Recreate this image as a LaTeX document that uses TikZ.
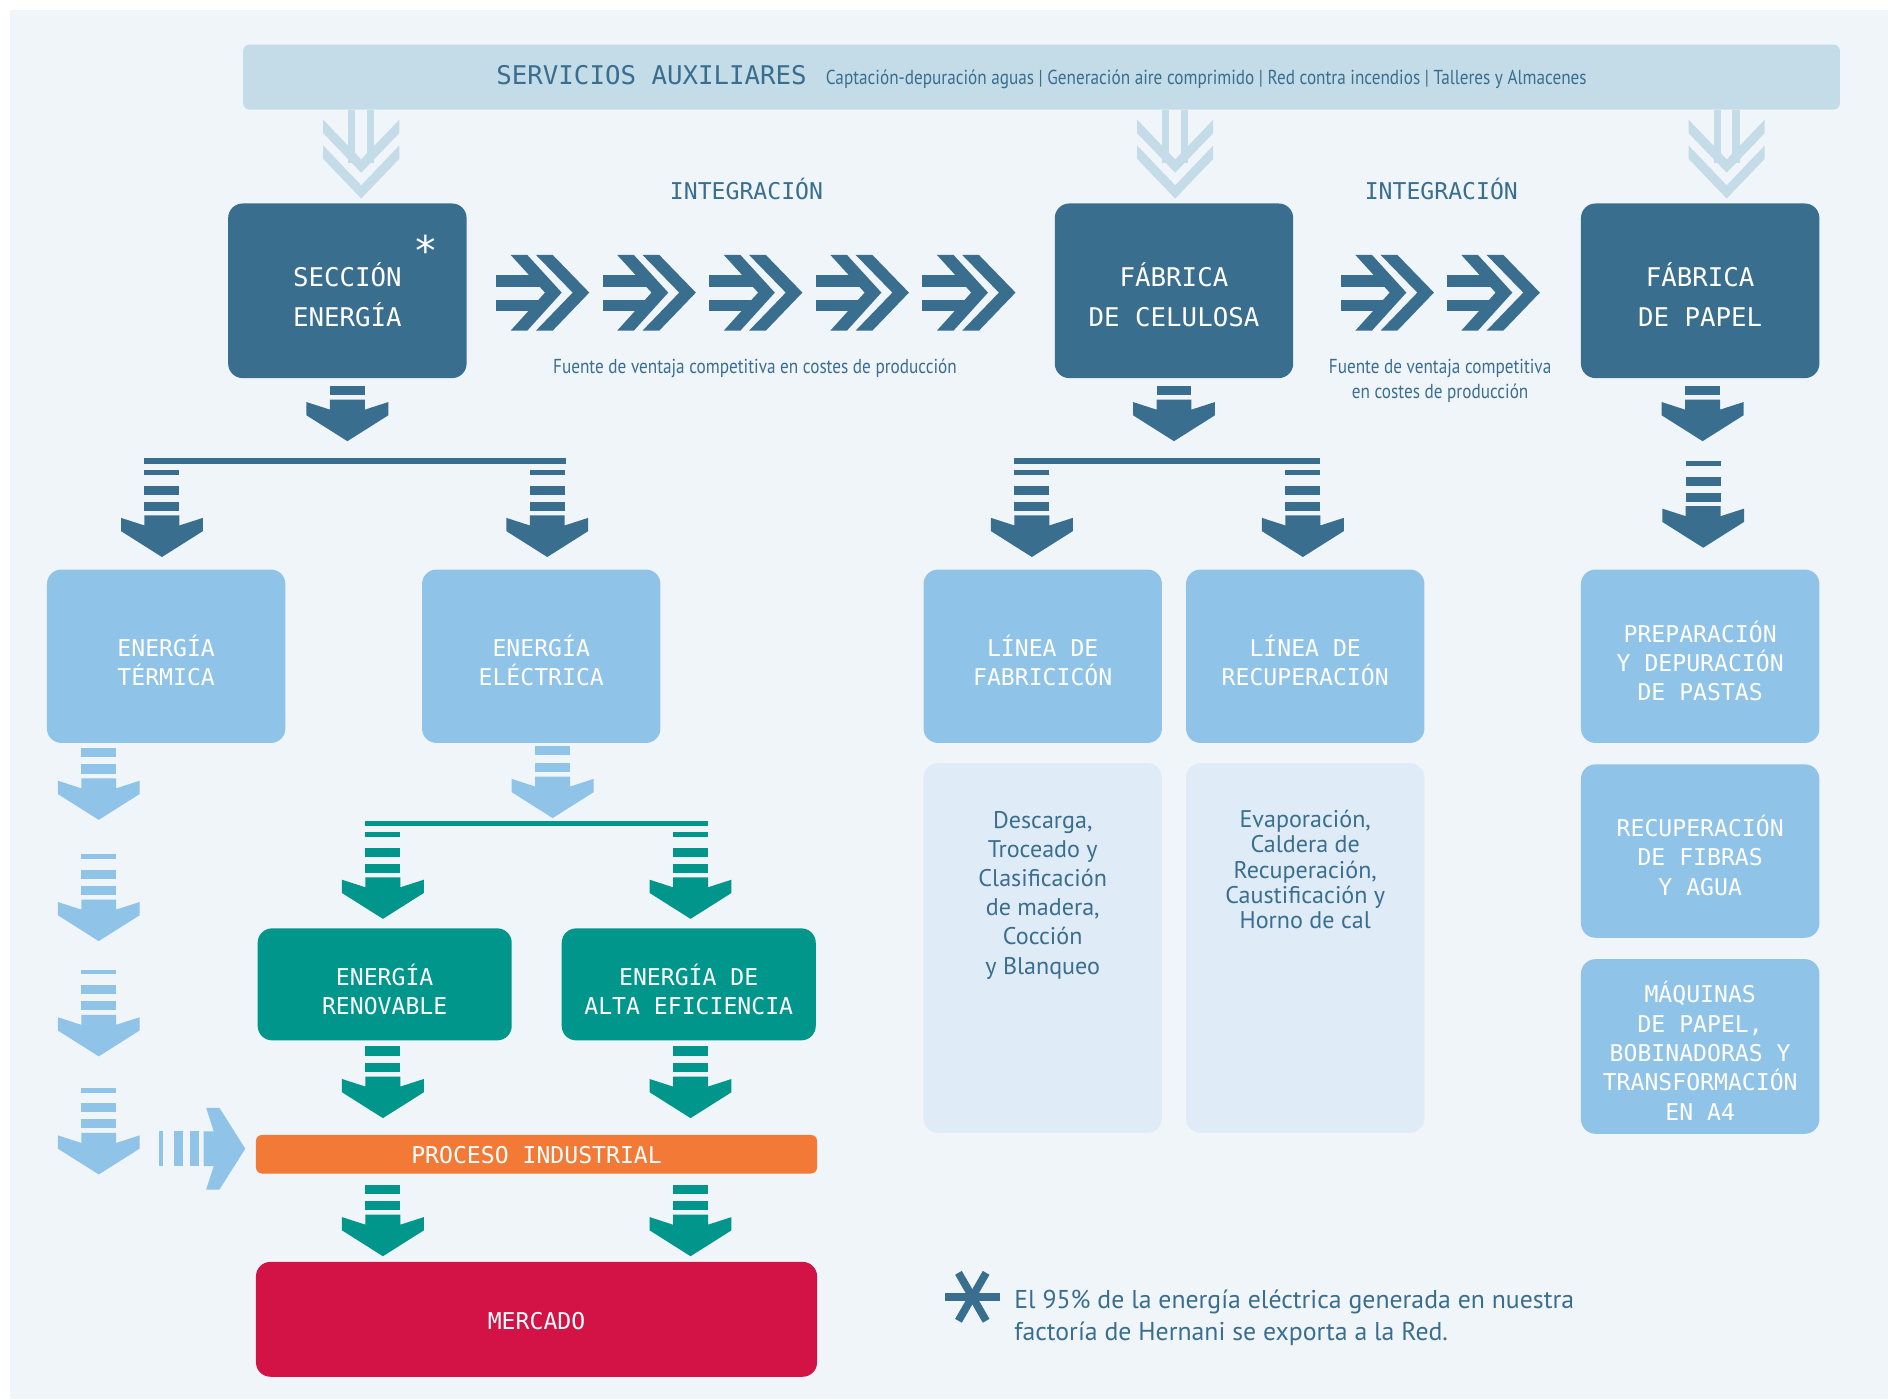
\documentclass[tikz,border=0pt]{standalone}
\usepackage{fontspec}
\setmainfont{PT Sans}
\newfontfamily\monof{DejaVu Sans Mono}
\newfontfamily\condf[FakeStretch=0.85]{PT Sans}
\usetikzlibrary{positioning,calc}

\definecolor{panelbg}{HTML}{F0F5FA}
\definecolor{servc}{HTML}{C3DCE8}
\definecolor{dblue}{HTML}{3A6E8F}
\definecolor{lblue}{HTML}{90C3E8}
\definecolor{paleb}{HTML}{DFEBF7}
\definecolor{tealc}{HTML}{00968C}
\definecolor{orangec}{HTML}{F37A36}
\definecolor{redc}{HTML}{D31245}

% dash lists for the block arrows (offsets above the stem)
\def\onedash{11.2/4.2}
\def\twodash{25/17.5,11.5/3.5}
\def\threedash{37.5/33.5,24.5/17,11.2/3.8}
% pushes box text a little down
\newcommand{\topstrut}[1]{\rule{0pt}{#1}}

\begin{document}
\begin{tikzpicture}[x=0.5pt, y=-0.5pt]
    \tikzstyle{every node}=[align=center, inner sep=0pt]
    \tikzstyle{dark}=[fill=dblue, rounded corners=6pt, minimum width=99pt, minimum height=72.5pt, text=white, font=\monof\fontsize{10.7}{16.5}\selectfont]
    \tikzstyle{light}=[fill=lblue, rounded corners=6pt, minimum width=99pt, minimum height=72pt, text=white, font=\monof\fontsize{9.6}{12.2}\selectfont]
    \tikzstyle{palebox}=[fill=paleb, rounded corners=6pt, minimum width=99pt, minimum height=153.5pt]
    \tikzstyle{tealbox}=[fill=tealc, rounded corners=6pt, minimum width=105.5pt, minimum height=46.5pt, text=white, font=\monof\fontsize{9.6}{12}\selectfont]
    \tikzstyle{intlabel}=[text=dblue, font=\monof\fontsize{9.6}{12}\selectfont]
    \tikzstyle{note}=[text=dblue, font=\condf\fontsize{8.4}{10.5}\selectfont]
    \tikzstyle{desctext}=[text=dblue, anchor=north, font=\fontsize{10}{12.1}\selectfont]
    \tikzset{
      darr/.pic={
        \foreach \a/\b in #1 {\fill (-14.5,-\a) rectangle (14.5,-\b);}
        \fill (-14.5,0) -- (14.5,0) -- (14.5,8.3) -- (34,2) -- (34,13) -- (0,34.5) -- (-34,13) -- (-34,2) -- (-14.5,8.3) -- cycle;
      },
      fwd/.pic={
        \fill (0,-14.7) rectangle (37.4,-4.7);
        \fill (0,6.1) rectangle (37.4,15.2);
        \fill (12.2,-31.3) -- (26,-31.3) -- (54.6,0) -- (26,31.6) -- (12.2,31.6) -- (40.7,0) -- cycle;
        \fill (33.2,-31.3) -- (47.1,-31.3) -- (77.5,0) -- (47.1,31.6) -- (33.2,31.6) -- (63.7,0) -- cycle;
      },
      dchev/.pic={
        \fill (-10.8,0) rectangle (-4.8,44);
        \fill (4.8,0) rectangle (10.8,44);
        \fill (-31.6,8) -- (0,41) -- (31.6,8) -- (31.6,19.2) -- (0,52) -- (-31.6,19.2) -- cycle;
        \fill (-31.6,29.4) -- (0,62.5) -- (31.6,29.4) -- (31.6,40.5) -- (0,73.5) -- (-31.6,40.5) -- cycle;
      }
    }

    % background
    \fill[white] (0,0) rectangle (1568,1162);
    \fill[panelbg] (8,8) rectangle (1568,1162);
    \useasboundingbox (0,0) rectangle (1568,1162);

    % servicios auxiliares
    \node[fill=servc, rounded corners=2.5pt, minimum width=663pt, minimum height=27pt, text=dblue] (serv) at (865,64)
      {{\monof\fontsize{10.7}{12}\selectfont SERVICIOS AUXILIARES}\hspace{8pt}{\condf\fontsize{8.4}{10}\selectfont Captación-depuración aguas | Generación aire comprimido | Red contra incendios | Talleres y Almacenes}};

    % main sections
    \node[dark] (sec) at (288.5,241.5) {\topstrut{13pt}SECCIÓN\\ENERGÍA};
    \node[dark] (cel) at (975,241.5) {\topstrut{13pt}FÁBRICA\\DE CELULOSA};
    \node[dark] (pap) at (1412,241.5) {\topstrut{13pt}FÁBRICA\\DE PAPEL};
    \node[text=white, font=\monof\fontsize{17}{17}\selectfont] (star) at ($(sec.north east)+(-34,39)$) {*};

    \pic[color=servc] at ($(serv.south -| sec.center)+(11.5,0)$) {dchev};
    \pic[color=servc] at ($(serv.south -| cel.center)+(1,0)$) {dchev};
    \pic[color=servc] at ($(serv.south -| pap.center)+(22,0)$) {dchev};

    % integracion
    \node[intlabel] (int1) at (620,157) {INTEGRACIÓN};
    \node[intlabel] (int2) at (1197,157) {INTEGRACIÓN};
    \foreach \i in {0,...,4}
      \pic[color=dblue] at ($(sec.east)+(24+88.5*\i,1.5)$) {fwd};
    \foreach \i in {0,1}
      \pic[color=dblue] at ($(cel.east)+(39+88*\i,1.5)$) {fwd};
    \node[note] (ven1) at (627,306) {Fuente de ventaja competitiva en costes de producción};
    \node[note] (ven2) at (1196,316.5) {Fuente de ventaja competitiva\\en costes de producción};

    % second row
    \node[light] (term) at (138,545) {\topstrut{12.4pt}ENERGÍA\\TÉRMICA};
    \node[light] (elec) at (449.5,545) {\topstrut{12.4pt}ENERGÍA\\ELÉCTRICA};
    \node[light] (linf) at (866,545) {\topstrut{12.4pt}LÍNEA DE\\FABRICICÓN};
    \node[light] (linr) at (1084,545) {\topstrut{12.4pt}LÍNEA DE\\RECUPERACIÓN};
    \node[light] (prep) at (1412,545) {\topstrut{12.8pt}PREPARACIÓN\\Y DEPURACIÓN\\DE PASTAS};

    \node[palebox, below=8pt of linf] (desc) {};
    \node[palebox, below=8pt of linr] (evap) {};
    \node[desctext] (descT) at ($(desc.north)+(0,40)$) {Descarga,\\Troceado y\\Clasificación\\de madera,\\Cocción\\y Blanqueo};
    \node[desctext, font=\fontsize{10}{10.5}\selectfont] (evapT) at ($(evap.north)+(0,39)$) {Evaporación,\\Caldera de\\Recuperación,\\Caustificación y\\Horno de cal};
    \node[light, below=8.5pt of prep] (recf) {\topstrut{12.4pt}RECUPERACIÓN\\DE FIBRAS\\Y AGUA};
    \node[light, below=8.5pt of recf, minimum height=72.5pt] (maq) {\topstrut{12.4pt}MÁQUINAS\\DE PAPEL,\\BOBINADORAS Y\\TRANSFORMACIÓN\\EN A4};

    % arrows from the main sections
    \pic[color=dblue] at ($(sec.south)+(0,17.5)$) {darr=\onedash};
    \pic[color=dblue] at ($(cel.south)+(0,17.5)$) {darr=\onedash};
    \pic[color=dblue] at ($(pap.south)+(2,17.5)$) {darr=\onedash};
    \fill[dblue] ($(term.north)+(-18,-92)$) rectangle ($(elec.north)+(20.5,-87.5)$);
    \pic[color=dblue] at ($(term.north)+(-3.5,-44.5)$) {darr=\threedash};
    \pic[color=dblue] at ($(elec.north)+(5,-44.5)$) {darr=\threedash};
    \fill[dblue] ($(linf.north)+(-23.5,-92)$) rectangle ($(linr.north)+(12.5,-87.5)$);
    \pic[color=dblue] at ($(linf.north)+(-9,-44.5)$) {darr=\threedash};
    \pic[color=dblue] at ($(linr.north)+(-2,-44.5)$) {darr=\threedash};
    \pic[color=dblue] at ($(prep.north)+(2.5,-52.2)$) {darr=\threedash};

    % energia
    \node[tealbox] (renov) at (319.5,817.5) {\topstrut{12.8pt}ENERGÍA\\RENOVABLE};
    \node[tealbox] (alta) at (572,817.5) {\topstrut{12.8pt}ENERGÍA DE\\ALTA EFICIENCIA};
    \node[fill=orangec, rounded corners=2.5pt, minimum width=233pt, minimum height=16pt, text=white, font=\monof\fontsize{9.6}{12}\selectfont] (proc) at (445.6,958.6) {\topstrut{8pt}PROCESO INDUSTRIAL};
    \node[fill=redc, rounded corners=6pt, minimum width=233pt, minimum height=47.7pt, text=white, font=\monof\fontsize{9.6}{12}\selectfont] (merc) at (445.6,1095.7) {\topstrut{8.6pt}MERCADO};

    \pic[color=lblue] at ($(term.south)+(-56,29)$) {darr=\twodash};
    \pic[color=lblue] at ($(term.south)+(-56,129.7)$) {darr=\threedash};
    \pic[color=lblue] at ($(term.south)+(-56,225.4)$) {darr=\threedash};
    \pic[color=lblue] at ($(term.south)+(-56,323.5)$) {darr=\threedash};
    \pic[color=lblue, rotate=90] at ($(proc.west)+(-43,-4.6)$) {darr=\threedash};
    \pic[color=lblue] at ($(elec.south)+(9.5,27.5)$) {darr=\twodash};

    \fill[tealc] ($(renov.north)+(-16,-89)$) rectangle ($(alta.north)+(16,-84.4)$);
    \pic[color=tealc] at ($(renov.north)+(-1.5,-42)$) {darr=\threedash};
    \pic[color=tealc] at ($(alta.north)+(1.5,-42)$) {darr=\threedash};
    \pic[color=tealc] at ($(renov.south)+(-1.5,29.7)$) {darr=\twodash};
    \pic[color=tealc] at ($(alta.south)+(1.5,29.7)$) {darr=\twodash};
    \pic[color=tealc] at ($(renov.south |- proc.south)+(-1.5,33.8)$) {darr=\twodash};
    \pic[color=tealc] at ($(alta.south |- proc.south)+(1.5,33.8)$) {darr=\twodash};

    % nota
    \coordinate (ast) at (807.5,1077);
    \foreach \a in {0,60,120}
      \draw[dblue, line width=3.2pt] ($(ast)+(\a:23)$) -- ($(ast)+(\a+180:23)$);
    \node[anchor=west, align=left, text=dblue, font=\fontsize{10.7}{13.5}\selectfont] (nota) at (842,1094.5)
      {El 95\% de la energía eléctrica generada en nuestra\\factoría de Hernani se exporta a la Red.};
\end{tikzpicture}
\end{document}
